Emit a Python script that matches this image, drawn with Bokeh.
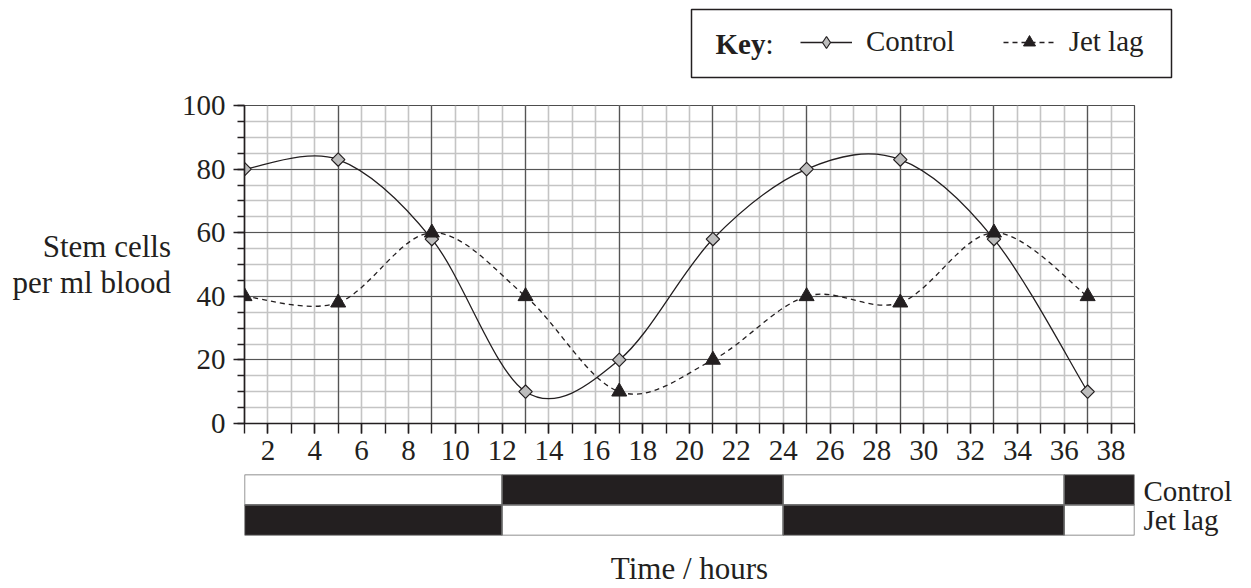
import numpy as np
from bokeh.plotting import figure
from bokeh.models import (FixedTicker, Grid, Legend, LegendItem, Range1d, Label,
                          BoxAnnotation, FactorRange, ColumnDataSource)
from bokeh.layouts import column
from bokeh.embed import file_html
from bokeh.resources import INLINE

# ---------------- data ----------------
hours = [1, 5, 9, 13, 17, 21, 25, 29, 33, 37]
control = [80, 83, 58, 10, 20, 58, 80, 83, 58, 10]
jet_lag = [40, 38, 60, 40, 10, 20, 40, 38, 60, 40]

x_tick_labels = list(range(2, 39, 2))
y_tick_labels = [0, 20, 40, 60, 80, 100]

phase_edges = [1, 12, 24, 36, 39]
control_phases = ["light", "dark", "light", "dark"]
jet_lag_phases = ["dark", "light", "dark", "light"]
row_names = ["Control", "Jet lag"]

FONT = "Liberation Serif"
INK = "#231f20"

CTRL_LINE = dict(line_color=INK, line_width=1.3)
JET_LINE = dict(line_color=INK, line_width=1.3, line_dash="5 4")
CTRL_MARK = dict(marker="square", size=9.5, angle=np.pi / 4,
                 fill_color="#bdbdbd", line_color=INK, line_width=1.2)
KEY_CTRL_MARK = dict(marker="diamond", size=13,
                     fill_color="#bdbdbd", line_color=INK, line_width=1.2)
JET_MARK = dict(marker="triangle", size=15, fill_color=INK, line_color=INK, line_width=1)
KEY_JET_MARK = dict(marker="triangle", size=13, fill_color=INK, line_color=INK, line_width=1)
BEZ = dict(x0="x0", y0="y0", x1="x1", y1="y1", cx0="cx0", cy0="cy0", cx1="cx1", cy1="cy1")


def smooth_segments(xs, ys):
    """Catmull-Rom smoothing expressed as cubic Bezier control points."""
    xs = np.asarray(xs, float)
    ys = np.asarray(ys, float)
    px = np.concatenate([[xs[0]], xs, [xs[-1]]])
    py = np.concatenate([[ys[0]], ys, [ys[-1]]])
    d = dict(x0=[], y0=[], x1=[], y1=[], cx0=[], cy0=[], cx1=[], cy1=[])
    for i in range(len(xs) - 1):
        p0x, p1x, p2x, p3x = px[i], px[i + 1], px[i + 2], px[i + 3]
        p0y, p1y, p2y, p3y = py[i], py[i + 1], py[i + 2], py[i + 3]
        d["x0"].append(p1x); d["y0"].append(p1y)
        d["x1"].append(p2x); d["y1"].append(p2y)
        d["cx0"].append(p1x + (p2x - p0x) / 6.0)
        d["cy0"].append(p1y + (p2y - p0y) / 6.0)
        d["cx1"].append(p2x - (p3x - p1x) / 6.0)
        d["cy1"].append(p2y - (p3y - p1y) / 6.0)
    return ColumnDataSource(d)


# ---------------- key strip (pixel-like coordinates, y downwards) ----------------
KW, KH = 1250, 85
k = figure(width=KW, height=KH, x_range=Range1d(0, KW), y_range=Range1d(KH, 0),
           x_axis_type=None, y_axis_type=None, output_backend="svg",
           toolbar_location=None, min_border=0)
k.outline_line_color = None
k.grid.visible = False
k.background_fill_color = "white"
k.border_fill_color = "white"
k.add_layout(BoxAnnotation(left=691, right=1171, top=9, bottom=77,
                           fill_color="white", fill_alpha=1,
                           line_color=INK, line_alpha=1, line_width=1.5))
k.add_layout(Label(x=715, y=43, text="Key", text_baseline="middle",
                   text_font=FONT, text_font_size="29px", text_font_style="bold",
                   text_color=INK))
k.add_layout(Label(x=765, y=43, text=":", text_baseline="middle",
                   text_font=FONT, text_font_size="29px", text_color=INK))
# legend-only renderers: their single sample lies outside the strip's visible range
off = -1000
k_ctrl_line = k.bezier(source=smooth_segments([off, off - 1], [off, off]), **BEZ, **CTRL_LINE)
k_ctrl_mark = k.scatter(x=[off], y=[off], **KEY_CTRL_MARK)
k_jet_line = k.bezier(source=smooth_segments([off, off - 1], [off, off]), **BEZ, **JET_LINE)
k_jet_mark = k.scatter(x=[off], y=[off], **KEY_JET_MARK)
legend = Legend(items=[LegendItem(label="Control", renderers=[k_ctrl_line, k_ctrl_mark]),
                       LegendItem(label="Jet lag", renderers=[k_jet_line, k_jet_mark])],
                orientation="horizontal", location=(800, 27),
                label_text_font=FONT, label_text_font_size="29px", label_text_color=INK,
                glyph_width=52, glyph_height=30, label_height=30, label_standoff=14,
                spacing=48, padding=0, margin=0,
                border_line_color=None, background_fill_alpha=0)
k.add_layout(legend, "center")

# ---------------- main chart ----------------
p = figure(width=1250, height=389, x_range=Range1d(1, 39), y_range=Range1d(0, 100),
           output_backend="svg", toolbar_location=None,
           min_border_left=244, min_border_right=116, min_border_top=20,
           min_border_bottom=51)
p.background_fill_color = "white"
p.border_fill_color = "white"
p.outline_line_color = "#4d4d4d"
p.outline_line_width = 1.2

p.xaxis.ticker = FixedTicker(ticks=x_tick_labels, minor_ticks=list(range(1, 40)))
p.yaxis.ticker = FixedTicker(ticks=y_tick_labels, minor_ticks=list(range(0, 101, 5)))
for ax in (p.xaxis, p.yaxis):
    ax.axis_line_color = INK
    ax.axis_line_width = 1.6
    ax.major_tick_line_color = INK
    ax.minor_tick_line_color = INK
    ax.major_tick_line_width = 1.4
    ax.minor_tick_line_width = 1.4
    ax.major_tick_in = 0
    ax.minor_tick_in = 0
    ax.major_label_text_font = FONT
    ax.major_label_text_font_size = "29px"
    ax.major_label_text_color = INK
p.xaxis.major_tick_out = 10
p.xaxis.minor_tick_out = 10
p.xaxis.major_label_standoff = 7
p.yaxis.major_tick_out = 11
p.yaxis.minor_tick_out = 7
p.yaxis.major_label_standoff = 8

p.yaxis.axis_label = "Stem cells\nper ml blood"
p.yaxis.axis_label_orientation = "horizontal"
p.yaxis.axis_label_text_font = FONT
p.yaxis.axis_label_text_font_size = "31px"
p.yaxis.axis_label_text_font_style = "normal"
p.yaxis.axis_label_text_color = INK
p.yaxis.axis_label_text_align = "center"
p.yaxis.axis_label_text_line_height = 1.05
p.yaxis.axis_label_standoff = 8

# grids: minor (light) first, then major (dark)
p.xgrid.ticker = FixedTicker(ticks=[], minor_ticks=list(range(1, 40)))
p.ygrid.ticker = FixedTicker(ticks=[], minor_ticks=list(range(0, 101, 5)))
for g in (p.xgrid, p.ygrid):
    g.grid_line_color = None
    g.minor_grid_line_color = "#c4c4c4"
    g.minor_grid_line_width = 1.6
p.add_layout(Grid(dimension=0, ticker=FixedTicker(ticks=hours),
                  grid_line_color="#555555", grid_line_width=1.2), "center")
p.add_layout(Grid(dimension=1, ticker=FixedTicker(ticks=y_tick_labels),
                  grid_line_color="#555555", grid_line_width=1.2), "center")

p.bezier(source=smooth_segments(hours, jet_lag), **BEZ, **JET_LINE)
p.bezier(source=smooth_segments(hours, control), **BEZ, **CTRL_LINE)
p.scatter(hours, control, **CTRL_MARK)
p.scatter(hours, jet_lag, **JET_MARK)

# ---------------- light/dark bars ----------------
rows, lefts, rights, fills = [], [], [], []
for name, phases in zip(row_names, (control_phases, jet_lag_phases)):
    for i, ph in enumerate(phases):
        rows.append(name)
        lefts.append(phase_edges[i])
        rights.append(phase_edges[i + 1])
        fills.append(INK if ph == "dark" else "white")
bar_src = ColumnDataSource(dict(row=rows, left=lefts, right=rights, fill=fills))

q = figure(width=1250, height=114, x_range=p.x_range,
           y_range=FactorRange(factors=list(reversed(row_names))),
           y_axis_location="right",
           output_backend="svg", toolbar_location=None,
           min_border_left=244, min_border_right=116, min_border_top=0,
           min_border_bottom=53)
q.outline_line_color = None
q.background_fill_color = "white"
q.border_fill_color = "white"
q.grid.visible = False
q.hbar(y="row", left="left", right="right", height=1.0, source=bar_src,
       fill_color="fill", line_color="#6b6b6b", line_width=1.4)

ya = q.yaxis[0]
ya.axis_line_color = None
ya.major_tick_line_color = None
ya.minor_tick_line_color = None
ya.major_tick_out = 0
ya.major_tick_in = 0
ya.major_label_standoff = 9
ya.major_label_text_font = FONT
ya.major_label_text_font_size = "29px"
ya.major_label_text_color = INK

xa = q.xaxis[0]
xa.ticker = FixedTicker(ticks=[])
xa.axis_line_color = None
xa.major_tick_line_color = None
xa.minor_tick_line_color = None
xa.axis_label = "Time / hours"
xa.axis_label_text_font = FONT
xa.axis_label_text_font_size = "31px"
xa.axis_label_text_font_style = "normal"
xa.axis_label_text_color = INK
xa.axis_label_standoff = 15

layout = column(k, column(p, q, spacing=0), spacing=0)
open("out.html", "w").write(file_html(layout, INLINE))
